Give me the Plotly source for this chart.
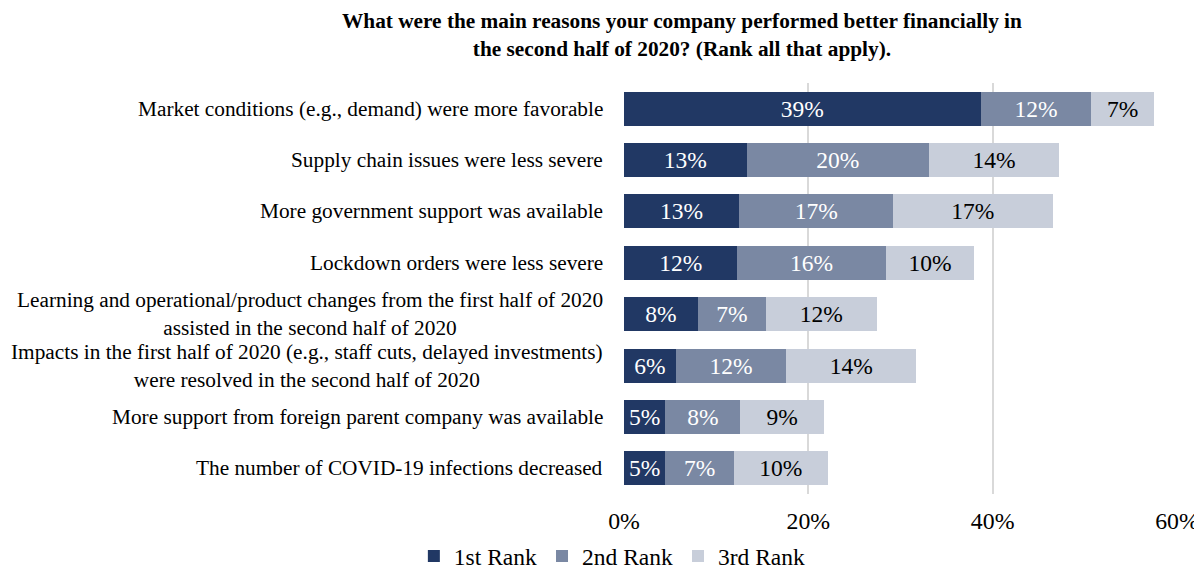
import plotly.graph_objects as go

categories = [
    "Market conditions (e.g., demand) were more favorable",
    "Supply chain issues were less severe",
    "More government support was available",
    "Lockdown orders were less severe",
    "Learning and operational/product changes from the first half of 2020<br>assisted in the second half of 2020",
    "Impacts in the first half of 2020 (e.g., staff cuts, delayed investments)<br>were resolved in the second half of 2020",
    "More support from foreign parent company was available",
    "The number of COVID-19 infections decreased",
]
rank1 = [38.7, 13.3, 12.5, 12.3, 8.0, 5.6, 4.5, 4.5]
rank2 = [12.0, 19.8, 16.7, 16.1, 7.4, 12.0, 8.1, 7.4]
rank3 = [6.8, 14.1, 17.3, 9.6, 12.0, 14.1, 9.1, 10.2]
series_names = ["1st Rank", "2nd Rank", "3rd Rank"]
colors = ["#213864", "#7A88A3", "#C8CEDA"]
text_colors = ["white", "white", "black"]
x_ticks = [0, 20, 40, 60]
x_tick_labels = ["0%", "20%", "40%", "60%"]
title_text = ("<b>What were the main reasons your company performed better financially in"
              "<br>the second half of 2020? (Rank all that apply).</b>")

FONT = "Liberation Serif, Times New Roman, serif"

fig = go.Figure()
for name, vals, col, tc in zip(series_names, [rank1, rank2, rank3], colors, text_colors):
    fig.add_trace(go.Bar(
        y=categories, x=vals, name=name, orientation="h",
        marker=dict(color=col, line=dict(width=0)),
        texttemplate="%{x:.0f}%", textposition="inside",
        insidetextanchor="middle", constraintext="none",
        textfont=dict(color=tc, size=23.5, family=FONT),
        hoverinfo="skip",
    ))

for c in categories:
    fig.add_annotation(
        x=0, xref="paper", xanchor="right", xshift=-19.5,
        y=c, yref="y", yanchor="middle",
        text=c, showarrow=False, align="center",
        font=dict(size=21.3, color="black", family=FONT),
    )

fig.add_annotation(
    x=0.1057, xref="paper", xanchor="center",
    y=1.186, yref="paper", yanchor="top",
    text=title_text, showarrow=False, align="center",
    font=dict(size=21.3, color="black", family=FONT),
)

fig.update_layout(
    barmode="stack",
    bargap=0.34,
    width=1194, height=561,
    margin=dict(l=615.5, r=25.3, t=75.3, b=74.7, autoexpand=False),
    paper_bgcolor="white", plot_bgcolor="white",
    font=dict(family=FONT, color="black"),
    xaxis=dict(
        range=[0, 60], tickvals=x_ticks, ticktext=x_tick_labels,
        showgrid=True, gridcolor="#D9D9D9", gridwidth=2,
        zeroline=False, showline=False, automargin=False,
        tickfont=dict(size=23.8, family=FONT, color="black"),
        ticks="", ticklabelstandoff=10,
    ),
    yaxis=dict(
        categoryorder="array", categoryarray=categories[::-1],
        showticklabels=False, ticks="", showgrid=False, zeroline=False,
        automargin=False,
    ),
    legend=dict(
        orientation="h", x=-0.38, xanchor="left", y=-0.098, yanchor="top",
        font=dict(size=23.5, family=FONT, color="black"),
        traceorder="normal", itemwidth=30,
    ),
    showlegend=True,
)

fig.write_html("out.html")
